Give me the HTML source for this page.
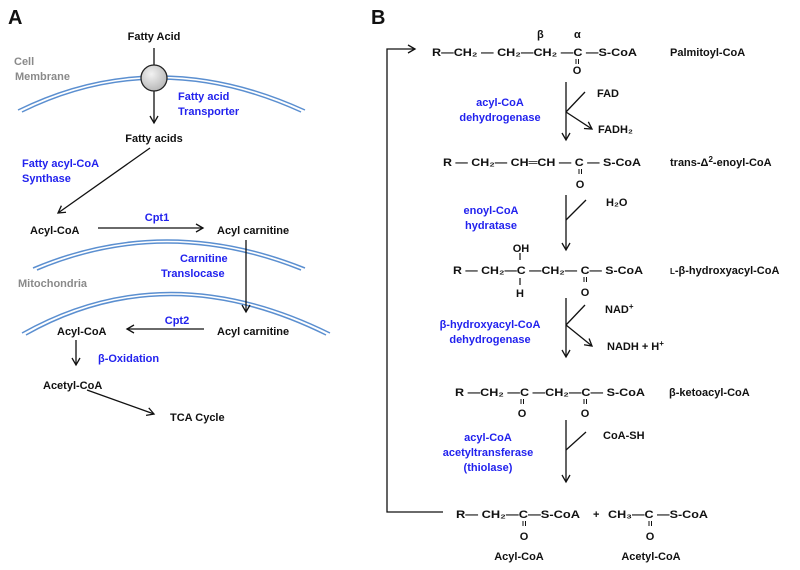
<!DOCTYPE html>
<html><head><meta charset="utf-8"><style>
body{margin:0;background:#fff}
svg{display:block}
text{font-family:"Liberation Sans","DejaVu Sans",sans-serif;font-weight:bold;font-size:11px;fill:#111}
.b{fill:#2222ee}
.g{fill:#8a8a8a}
.big{font-size:20px}
</style></head><body>
<svg width="800" height="570" viewBox="0 0 800 570" xmlns="http://www.w3.org/2000/svg">
<defs>
<marker id="ar" markerWidth="10" markerHeight="10" refX="8" refY="5" orient="auto" markerUnits="userSpaceOnUse">
<path d="M1,1 L8,5 L1,9" fill="none" stroke="#111" stroke-width="1.3"/>
</marker>
<radialGradient id="cg" cx="40%" cy="35%" r="70%"><stop offset="0" stop-color="#f2f2f2"/><stop offset="1" stop-color="#b5b5b5"/></radialGradient>
</defs>
<g stroke="#111" stroke-width="1.3" fill="none">
<path d="M18,110 Q156,42 305,110" stroke="#5b8fd0" stroke-width="1.5"/>
<path d="M22,112 Q156,46 301,112" stroke="#5b8fd0" stroke-width="1.5"/>
<path d="M33,268 Q165,212 305,268" stroke="#5b8fd0" stroke-width="1.5"/>
<path d="M37,270 Q165,216 301,270" stroke="#5b8fd0" stroke-width="1.5"/>
<path d="M22,333 Q166,252 330,333" stroke="#5b8fd0" stroke-width="1.5"/>
<path d="M26,335 Q166,256 326,335" stroke="#5b8fd0" stroke-width="1.5"/>
<line x1="154" y1="48" x2="154" y2="66"/>
<line x1="154" y1="91" x2="154" y2="123" marker-end="url(#ar)"/>
<line x1="150" y1="148" x2="58" y2="213" marker-end="url(#ar)"/>
<line x1="98" y1="228" x2="203" y2="228" marker-end="url(#ar)"/>
<line x1="246" y1="240" x2="246" y2="312" marker-end="url(#ar)"/>
<line x1="204" y1="329" x2="127" y2="329" marker-end="url(#ar)"/>
<line x1="76" y1="340" x2="76" y2="365" marker-end="url(#ar)"/>
<line x1="87" y1="390" x2="154" y2="414" marker-end="url(#ar)"/>
<polyline points="443,512 387,512 387,49 415,49" marker-end="url(#ar)"/>
<line x1="566" y1="82" x2="566" y2="140" marker-end="url(#ar)"/>
<line x1="566" y1="112" x2="585" y2="92"/>
<line x1="566" y1="112" x2="592" y2="129" marker-end="url(#ar)"/>
<line x1="566" y1="195" x2="566" y2="250" marker-end="url(#ar)"/>
<line x1="566" y1="220" x2="586" y2="200"/>
<line x1="566" y1="298" x2="566" y2="357" marker-end="url(#ar)"/>
<line x1="566" y1="325" x2="585" y2="305"/>
<line x1="566" y1="325" x2="592" y2="346" marker-end="url(#ar)"/>
<line x1="566" y1="420" x2="566" y2="482" marker-end="url(#ar)"/>
<line x1="566" y1="450" x2="586" y2="432"/>
<line x1="520" y1="253" x2="520" y2="260" stroke-width="1.2"/>
<line x1="520" y1="278" x2="520" y2="285" stroke-width="1.2"/>
</g>
<g stroke="#111" stroke-width="1">
<path d="M576,59v5M578.5,59v5"/>
<path d="M579,169v5M581.5,169v5"/>
<path d="M584,277v5M586.5,277v5"/>
<path d="M521,399v5M523.5,399v5"/>
<path d="M584,399v5M586.5,399v5"/>
<path d="M523,521v5M525.5,521v5"/>
<path d="M649,521v5M651.5,521v5"/>
</g>
<circle cx="154" cy="78" r="13" fill="url(#cg)" stroke="#222" stroke-width="1.3"/>

<text class="big" x="8" y="24">A</text>
<text class="big" x="371" y="24">B</text>
<text x="154" y="40" text-anchor="middle">Fatty Acid</text>
<text class="g" x="14" y="65">Cell</text>
<text class="g" x="15" y="80">Membrane</text>
<text class="b" x="178" y="100">Fatty acid</text>
<text class="b" x="178" y="115">Transporter</text>
<text x="154" y="142" text-anchor="middle">Fatty acids</text>
<text class="b" x="22" y="167">Fatty acyl-CoA</text>
<text class="b" x="22" y="182">Synthase</text>
<text x="30" y="234">Acyl-CoA</text>
<text class="b" x="157" y="221" text-anchor="middle">Cpt1</text>
<text x="217" y="234">Acyl carnitine</text>
<text class="b" x="180" y="262">Carnitine</text>
<text class="b" x="161" y="277">Translocase</text>
<text class="g" x="18" y="287">Mitochondria</text>
<text class="b" x="177" y="324" text-anchor="middle">Cpt2</text>
<text x="217" y="335">Acyl carnitine</text>
<text x="57" y="335">Acyl-CoA</text>
<text class="b" x="98" y="362">β-Oxidation</text>
<text x="43" y="389">Acetyl-CoA</text>
<text x="170" y="421">TCA Cycle</text>

<text x="537" y="38">β</text>
<text x="574" y="38">α</text>
<text x="432" y="56" textLength="205" lengthAdjust="spacingAndGlyphs">R—CH₂ — CH₂—CH₂ —C —S-CoA</text>
<text x="577" y="74" text-anchor="middle">O</text>
<text x="670" y="56">Palmitoyl-CoA</text>
<text class="b" x="500" y="106" text-anchor="middle">acyl-CoA</text>
<text class="b" x="500" y="121" text-anchor="middle">dehydrogenase</text>
<text x="597" y="97">FAD</text>
<text x="598" y="133">FADH₂</text>
<text x="443" y="166" textLength="198" lengthAdjust="spacingAndGlyphs">R — CH₂— CH═CH — C — S-CoA</text>
<text x="580" y="188" text-anchor="middle">O</text>
<text x="670" y="166">trans-Δ<tspan font-size="8" dy="-4">2</tspan><tspan dy="4">-enoyl-CoA</tspan></text>
<text class="b" x="491" y="214" text-anchor="middle">enoyl-CoA</text>
<text class="b" x="491" y="229" text-anchor="middle">hydratase</text>
<text x="606" y="206">H₂O</text>
<text x="521" y="252" text-anchor="middle">OH</text>
<text x="453" y="274" textLength="190" lengthAdjust="spacingAndGlyphs">R — CH₂—C —CH₂— C— S-CoA</text>
<text x="520" y="297" text-anchor="middle">H</text>
<text x="585" y="296" text-anchor="middle">O</text>
<text x="670" y="274"><tspan font-size="8">L</tspan>-β-hydroxyacyl-CoA</text>
<text class="b" x="490" y="328" text-anchor="middle">β-hydroxyacyl-CoA</text>
<text class="b" x="490" y="343" text-anchor="middle">dehydrogenase</text>
<text x="605" y="313">NAD<tspan font-size="8" dy="-4">+</tspan></text>
<text x="607" y="350">NADH + H<tspan font-size="8" dy="-4">+</tspan></text>
<text x="455" y="396" textLength="190" lengthAdjust="spacingAndGlyphs">R —CH₂ —C —CH₂—C— S-CoA</text>
<text x="522" y="417" text-anchor="middle">O</text>
<text x="585" y="417" text-anchor="middle">O</text>
<text x="669" y="396">β-ketoacyl-CoA</text>
<text class="b" x="488" y="441" text-anchor="middle">acyl-CoA</text>
<text class="b" x="488" y="456" text-anchor="middle">acetyltransferase</text>
<text class="b" x="488" y="471" text-anchor="middle">(thiolase)</text>
<text x="603" y="439">CoA-SH</text>
<text x="456" y="518" textLength="124" lengthAdjust="spacingAndGlyphs">R— CH₂—C—S-CoA</text>
<text x="593" y="518">+</text>
<text x="608" y="518" textLength="100" lengthAdjust="spacingAndGlyphs">CH₃—C —S-CoA</text>
<text x="524" y="540" text-anchor="middle">O</text>
<text x="650" y="540" text-anchor="middle">O</text>
<text x="519" y="560" text-anchor="middle">Acyl-CoA</text>
<text x="651" y="560" text-anchor="middle">Acetyl-CoA</text>
</svg>
</body></html>
